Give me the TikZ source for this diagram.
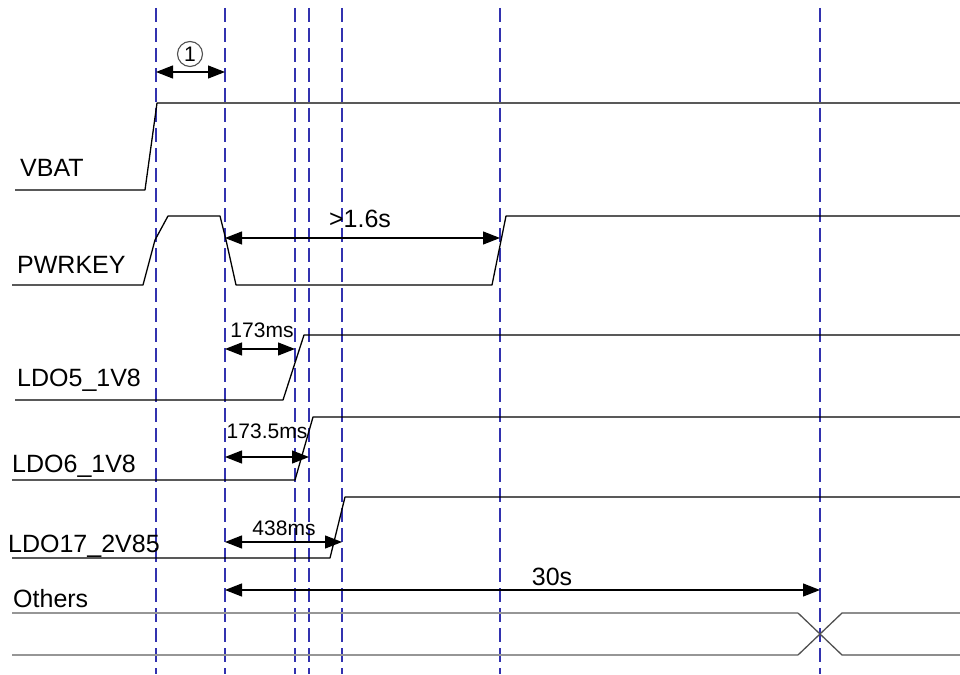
\documentclass[tikz,border=0pt]{standalone}
\usepackage{fontspec}
\setmainfont{Liberation Sans}
\usetikzlibrary{arrows.meta}
\definecolor{guideblue}{RGB}{50,50,175}
\definecolor{lightsig}{RGB}{150,150,150}
\definecolor{darksig}{RGB}{80,80,80}
\begin{document}
\begin{tikzpicture}[x=1pt,y=-1pt,
  sig/.style={line width=1.3pt, black, line join=round},
  guide/.style={line width=1.4pt, color=guideblue, dash pattern=on 14pt off 6pt},
  dimarrow/.style={line width=1.2pt, black, {Triangle[length=17pt,width=13pt]}-{Triangle[length=17pt,width=13pt]}},
  signame/.style={anchor=base west, font=\fontsize{25}{28}\selectfont, inner sep=0pt},
  smalllbl/.style={anchor=base, font=\fontsize{21}{24}\selectfont, inner sep=0pt},
  biglbl/.style={anchor=base, font=\fontsize{25}{28}\selectfont, inner sep=0pt}]
\useasboundingbox (0,0) rectangle (960,674);

% guide lines
\foreach \n/\x in {ga/156,gb/225,gc/295,gd/309,ge/342,gf/500,gg/820}{
  \coordinate (\n top) at (\x,8);
  \coordinate (\n bot) at (\x,674);
  \draw[guide] (\n top) -- (\n bot);
}

% signal names
\node[signame] (vbat)   at (20,176) {VBAT};
\node[signame] (pwrkey) at (17,273) {PWRKEY};
\node[signame] (ldo5)   at (17,386) {LDO5\_1V8};
\node[signame] (ldo6)   at (12,472) {LDO6\_1V8};
\node[signame] (ldo17)  at (8,552)  {LDO17\_2V85};
\node[signame] (others) at (13,607) {Others};

% waveforms
\draw[sig] (15,190) -- (145,190) -- (157,103) -- (960,103);
\draw[sig] (12,285) -- (143,285) -- (155,240) -- (168,216) -- (220,216) -- (226,240) -- (236,285) -- (492,285) -- (506,216) -- (960,216);
\draw[sig] (15,400) -- (283,400) -- (304,335) -- (960,335);
\draw[sig] (12,480) -- (295,480) -- (313,417) -- (960,417);
\draw[sig] (12,558) -- (330,558) -- (345,497) -- (960,497);
\draw[line width=1.3pt, lightsig] (12,613) -- (798,613);
\draw[line width=1.3pt, lightsig] (12,655) -- (798,655);
\draw[line width=1.3pt, darksig] (798,613) -- (842,655) -- (960,655);
\draw[line width=1.3pt, darksig] (798,655) -- (842,613) -- (960,613);

% dimension arrows
\coordinate (d1L) at (156,72);  \coordinate (d1R) at (225,72);
\coordinate (d2L) at (225,238); \coordinate (d2R) at (500,238);
\coordinate (d3L) at (225,349); \coordinate (d3R) at (295,349);
\coordinate (d4L) at (225,457); \coordinate (d4R) at (309,457);
\coordinate (d5L) at (225,542); \coordinate (d5R) at (342,542);
\coordinate (d6L) at (225,590); \coordinate (d6R) at (820,590);
\draw[dimarrow] (d1L) -- (d1R);
\draw[dimarrow] (d2L) -- (d2R);
\draw[dimarrow] (d3L) -- (d3R);
\draw[dimarrow] (d4L) -- (d4R);
\draw[dimarrow] (d5L) -- (d5R);
\draw[dimarrow] (d6L) -- (d6R);

% dimension labels
\node[circle, draw=darksig, line width=1.1pt, minimum size=25pt, inner sep=0pt,
      font=\fontsize{21}{22}\selectfont] (n1) at (190,54) {1};
\node[biglbl]   (t16)  at (360,227) {>1.6s};
\node[smalllbl] (t173) at (262,337) {173ms};
\node[smalllbl] (t1735) at (267,438) {173.5ms};
\node[smalllbl] (t438) at (284,535) {438ms};
\node[biglbl]   (t30)  at (552,585) {30s};
\end{tikzpicture}
\end{document}
